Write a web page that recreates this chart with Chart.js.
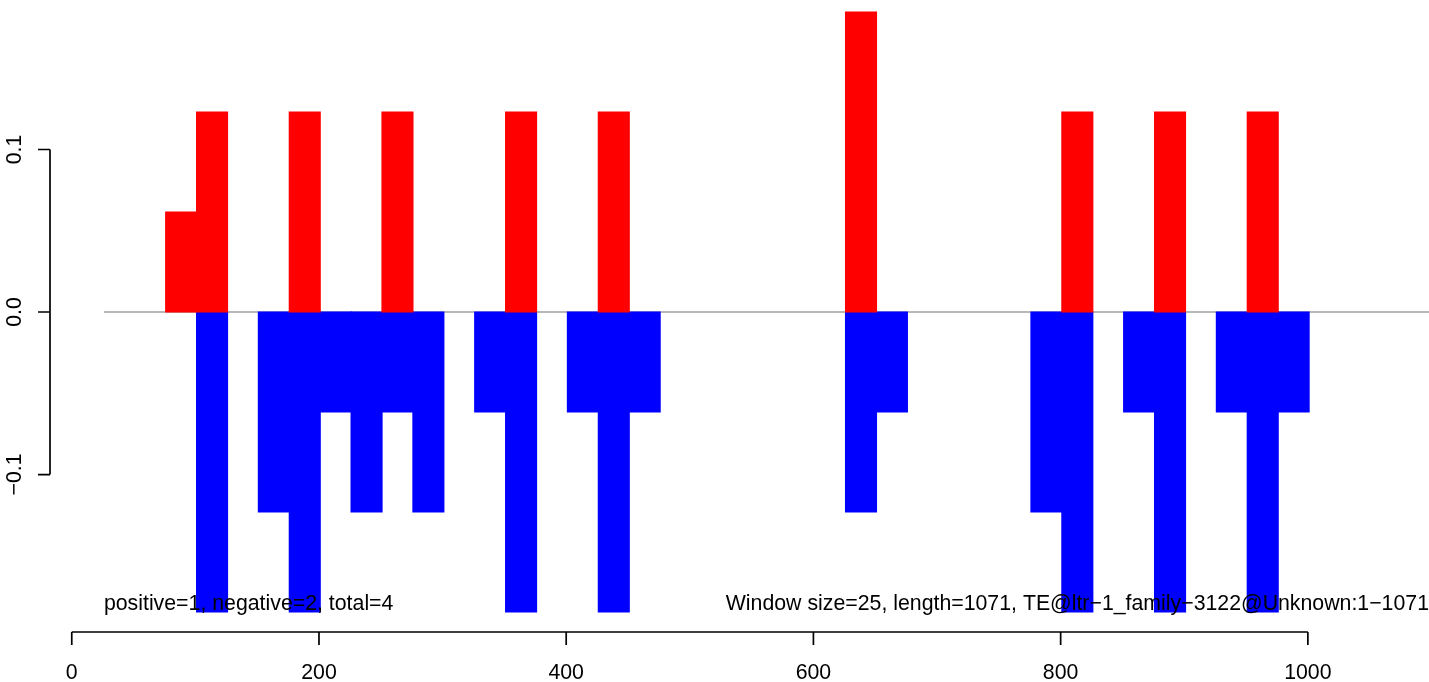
<!DOCTYPE html>
<html>
<head>
<meta charset="utf-8">
<script src="https://cdn.jsdelivr.net/npm/chart.js@4.4.0/dist/chart.umd.min.js"></script>
<style>
  body { margin: 0; background: #fff; }
  #wrap { width: 1429px; height: 682px; }
</style>
</head>
<body>
<div id="wrap"><canvas id="chart" width="1429" height="682"></canvas></div>
<script>
// window size and the start of each window that has a mark
const windowSize = 25;
const windowStarts = [76, 101, 151, 176, 201, 226, 251, 276, 326, 351, 401, 426, 451, 626, 651, 776, 801, 851, 876, 926, 951, 976];
const positiveValues = [0.0615, 0.123, 0, 0.123, 0, 0, 0.123, 0, 0, 0.123, 0, 0.123, 0, 0.1845, 0, 0, 0.123, 0, 0.123, 0, 0.123, 0];
const negativeValues = [0, -0.1845, -0.123, -0.1845, -0.0615, -0.123, -0.0615, -0.123, -0.0615, -0.1845, -0.0615, -0.1845, -0.0615, -0.123, -0.0615, -0.123, -0.1845, -0.0615, -0.1845, -0.0615, -0.1845, -0.0615];

// axis ticks
const xTicks = [0, 200, 400, 600, 800, 1000];
const xTickLabels = ["0", "200", "400", "600", "800", "1000"];
const yTicks = [-0.1, 0, 0.1];
const yTickLabels = ["\u22120.1", "0.0", "0.1"];

// baseline and notes
const baselineStart = 26;
const leftNote = "positive=1, negative=2, total=4";
const rightNote = "Window size=25, length=1071, TE@ltr\u22121_family\u22123122@Unknown:1\u22121071";
const noteY = -0.18;

const xMin = -17.6;
const xMax = 1098;
const yMin = -0.1969;
const yMax = 0.192;

const FONT = '21.3px "Liberation Sans", Arial, Helvetica, sans-serif';

// R-style axes: line only spans the first to last tick
const rAxes = {
  id: "rAxes",
  afterDatasetsDraw(chart) {
    const { ctx, chartArea, scales } = chart;
    const x = scales.x;
    const y = scales.y;
    ctx.save();
    ctx.strokeStyle = "#000";
    ctx.lineWidth = 1.7;
    ctx.lineCap = "butt";

    // x axis
    const xb = chartArea.bottom;
    ctx.beginPath();
    ctx.moveTo(x.getPixelForValue(xTicks[0]), xb);
    ctx.lineTo(x.getPixelForValue(xTicks[xTicks.length - 1]), xb);
    xTicks.forEach((v) => {
      const px = x.getPixelForValue(v);
      ctx.moveTo(px, xb);
      ctx.lineTo(px, xb + 13);
    });
    ctx.stroke();

    // y axis
    const yl = chartArea.left;
    ctx.beginPath();
    ctx.moveTo(yl, y.getPixelForValue(yTicks[0]));
    ctx.lineTo(yl, y.getPixelForValue(yTicks[yTicks.length - 1]));
    yTicks.forEach((v) => {
      const py = y.getPixelForValue(v);
      ctx.moveTo(yl, py);
      ctx.lineTo(yl - 12, py);
    });
    ctx.stroke();

    ctx.fillStyle = "#000";
    ctx.font = FONT;
    ctx.textAlign = "center";
    ctx.textBaseline = "middle";
    xTicks.forEach((v, i) => {
      ctx.fillText(xTickLabels[i], x.getPixelForValue(v), xb + 41);
    });
    yTicks.forEach((v, i) => {
      ctx.save();
      ctx.translate(yl - 35, y.getPixelForValue(v));
      ctx.rotate(-Math.PI / 2);
      ctx.fillText(yTickLabels[i], 0, 0);
      ctx.restore();
    });

    // notes
    ctx.textAlign = "left";
    ctx.fillText(leftNote, x.getPixelForValue(baselineStart), y.getPixelForValue(noteY));
    ctx.textAlign = "right";
    ctx.fillText(rightNote, x.getPixelForValue(xMax), y.getPixelForValue(noteY));
    ctx.restore();
  },
};

// empty windows get no bar at all
const toPoints = (values) =>
  windowStarts.map((s, i) => ({ x: s + windowSize / 2, y: values[i] === 0 ? null : values[i] }));

const ctx = document.getElementById("chart").getContext("2d");
new Chart(ctx, {
  type: "bar",
  data: {
    datasets: [
      {
        type: "line",
        data: [
          { x: baselineStart, y: 0 },
          { x: xMax, y: 0 },
        ],
        borderColor: "#a0a0a0",
        borderWidth: 1.5,
        pointRadius: 0,
        order: 3,
      },
      {
        label: "positive",
        data: toPoints(positiveValues),
        backgroundColor: "#ff0000",
        borderWidth: 0,
        inflateAmount: 0.6,
        barPercentage: 1,
        categoryPercentage: 1,
        order: 1,
      },
      {
        label: "negative",
        data: toPoints(negativeValues),
        backgroundColor: "#0000ff",
        borderWidth: 0,
        inflateAmount: 0.6,
        barPercentage: 1,
        categoryPercentage: 1,
        order: 1,
      },
    ],
  },
  options: {
    responsive: false,
    animation: false,
    layout: { padding: { left: 50, right: 0, top: 0, bottom: 50 } },
    plugins: {
      legend: { display: false },
      tooltip: { enabled: false },
    },
    scales: {
      x: { type: "linear", min: xMin, max: xMax, offset: false, stacked: true, display: false },
      y: { min: yMin, max: yMax, stacked: true, display: false },
    },
  },
  plugins: [rAxes],
});
</script>
</body>
</html>
